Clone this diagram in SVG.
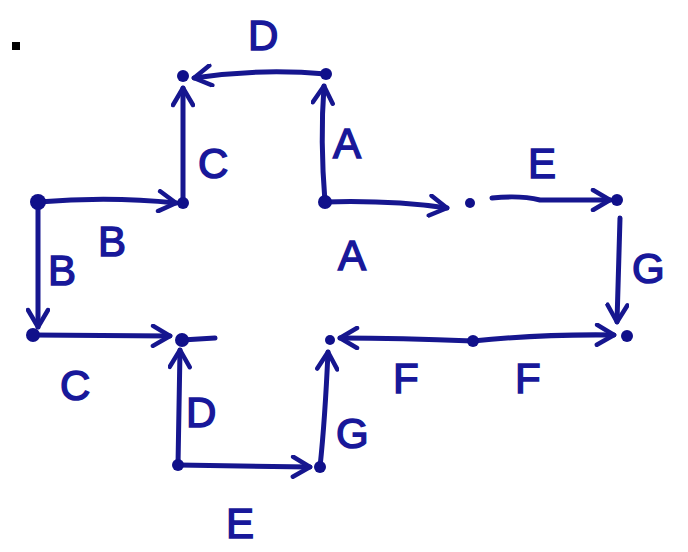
<svg xmlns="http://www.w3.org/2000/svg" width="688" height="552" viewBox="0 0 688 552">
<style>
.e{fill:none;stroke:#16168f;stroke-width:5;stroke-linecap:round;stroke-linejoin:round}
.n{fill:#10108a}
.t{font-family:"Liberation Sans",Arial,sans-serif;font-size:42px;fill:#18189a;stroke:#18189a;stroke-width:1.5}
</style>
<defs>
<marker id="a" viewBox="0 0 24 24" refX="20" refY="12" markerWidth="24" markerHeight="24" markerUnits="userSpaceOnUse" orient="auto">
<path d="M3,2 L20,12 L3,22" fill="none" stroke="#16168f" stroke-width="4.5" stroke-linecap="round" stroke-linejoin="round"/>
</marker>
</defs>
<rect x="12" y="42" width="8" height="8" fill="#000"/>
<g id="connectors">
<path class="e" d="M326,74 Q260,68 194,78" marker-end="url(#a)"/>
<path class="e" d="M183,203 L183,88" marker-end="url(#a)"/>
<path class="e" d="M325,202 Q320,140 324,86" marker-end="url(#a)"/>
<path class="e" d="M325,202 Q390,200 447,208" marker-end="url(#a)"/>
<path class="e" d="M492,198 Q520,195 540,200 L610,200" marker-end="url(#a)"/>
<path class="e" d="M620,218 L617,322" marker-end="url(#a)"/>
<path class="e" d="M473,341 Q540,334 614,335" marker-end="url(#a)"/>
<path class="e" d="M473,341 Q400,338 340,338" marker-end="url(#a)"/>
<path class="e" d="M320,467 Q325,420 328,352" marker-end="url(#a)"/>
<path class="e" d="M178,465 L310,467" marker-end="url(#a)"/>
<path class="e" d="M178,465 L180,350" marker-end="url(#a)"/>
<path class="e" d="M182,340 L215,338"/>
<path class="e" d="M33,335 L170,336" marker-end="url(#a)"/>
<path class="e" d="M38,202 L38,327" marker-end="url(#a)"/>
<path class="e" d="M38,202 Q110,196 176,203" marker-end="url(#a)"/>
</g>
<g id="n1"><circle class="n" cx="38" cy="202" r="8"/></g>
<g id="n2"><circle class="n" cx="33" cy="335" r="7"/></g>
<g id="n3"><circle class="n" cx="183" cy="76" r="6"/></g>
<g id="n4"><circle class="n" cx="326" cy="74" r="6"/></g>
<g id="n5"><circle class="n" cx="183" cy="203" r="6"/></g>
<g id="n6"><circle class="n" cx="325" cy="202" r="7"/></g>
<g id="n7"><circle class="n" cx="470" cy="203" r="5"/></g>
<g id="n8"><circle class="n" cx="617" cy="200" r="6"/></g>
<g id="n9"><circle class="n" cx="627" cy="336" r="6"/></g>
<g id="n10"><circle class="n" cx="473" cy="341" r="6"/></g>
<g id="n11"><circle class="n" cx="330" cy="340" r="5"/></g>
<g id="n12"><circle class="n" cx="182" cy="340" r="7"/></g>
<g id="n13"><circle class="n" cx="178" cy="465" r="6"/></g>
<g id="n14"><circle class="n" cx="320" cy="467" r="6"/></g>
<g id="labels">
<text class="t" x="248" y="50">D</text>
<text class="t" x="198" y="178">C</text>
<text class="t" x="333" y="158">A</text>
<text class="t" x="338" y="270">A</text>
<text class="t" x="528" y="178">E</text>
<text class="t" x="632" y="283">G</text>
<text class="t" x="393" y="393">F</text>
<text class="t" x="515" y="393">F</text>
<text class="t" x="336" y="448">G</text>
<text class="t" x="186" y="427">D</text>
<text class="t" x="226" y="538">E</text>
<text class="t" x="60" y="400">C</text>
<text class="t" x="48" y="285">B</text>
<text class="t" x="98" y="256">B</text>
</g>
</svg>
